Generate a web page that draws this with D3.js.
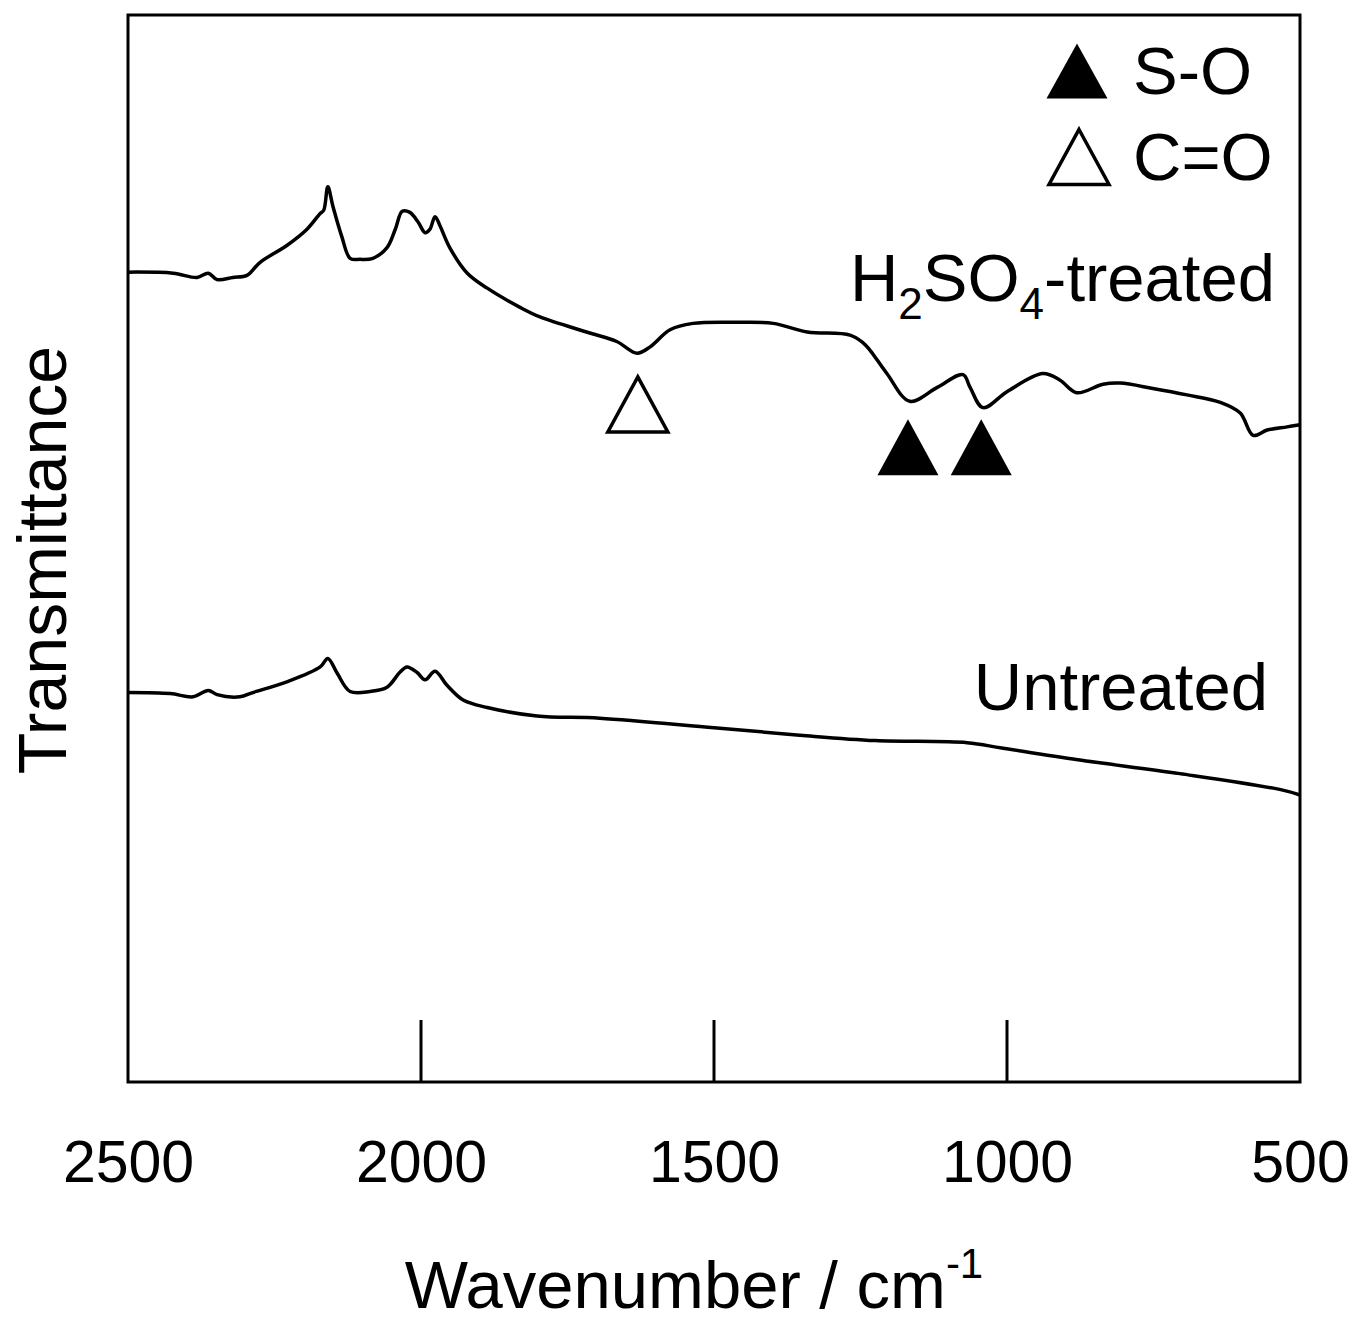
<!DOCTYPE html>
<html>
<head>
<meta charset="utf-8">
<script src="https://cdn.jsdelivr.net/npm/d3@7"></script>
<style>
    body { margin: 0; background: #fff; }
    svg text, svg tspan { font-family: "Liberation Sans", Arial, sans-serif; fill: #000; }
</style>
</head>
<body>
<div id="chart"></div>
<script>
// Spectra (wavenumber in cm-1, transmittance in arbitrary units)
const treatedWn = [2500, 2423, 2382, 2363, 2348, 2321, 2297, 2275, 2229, 2195, 2172, 2166, 2159, 2150, 2135, 2121,
    2104, 2082, 2058, 2044, 2032, 2019, 2005, 1993, 1985, 1976, 1968, 1951, 1921, 1887, 1831, 1797, 1712, 1666,
    1631, 1609, 1575, 1536, 1456, 1399, 1341, 1268, 1246, 1234, 1205, 1166, 1119, 1075, 1063, 1041, 1000, 939,
    910, 881, 836, 807, 751, 693, 636, 602, 580, 556, 522, 500];
const treatedT = [75.9, 75.8, 75.4, 75.8, 75.2, 75.4, 75.6, 76.8, 78.4, 79.9, 81.4, 81.7, 83.9, 82.0, 79.2, 77.2,
    77.1, 77.2, 78.2, 79.9, 81.6, 81.5, 80.6, 79.6, 79.9, 81.1, 80.3, 78.2, 75.8, 74.4, 72.6, 71.7, 70.2, 69.4,
    68.3, 68.9, 70.5, 71.1, 71.2, 71.1, 70.3, 70.0, 69.3, 68.6, 66.4, 63.8, 65.1, 66.3, 65.1, 63.2, 64.7, 66.4,
    65.8, 64.6, 65.4, 65.5, 65.0, 64.4, 63.7, 62.7, 60.6, 61.1, 61.4, 61.6];

const untreatedWn = [2500, 2428, 2389, 2363, 2348, 2309, 2287, 2229, 2172, 2159, 2143, 2121, 2087, 2058, 2036,
    2024, 2007, 1993, 1976, 1956, 1928, 1887, 1802, 1695, 1500, 1353, 1225, 1068, 1009, 879, 705, 533, 500];
const untreatedT = [36.5, 36.4, 36.1, 36.7, 36.3, 36.1, 36.5, 37.5, 38.9, 39.7, 38.3, 36.6, 36.6, 37.0, 38.4,
    38.9, 38.4, 37.7, 38.5, 37.2, 35.8, 35.1, 34.3, 34.1, 33.2, 32.5, 32.0, 31.8, 31.3, 30.2, 28.9, 27.4, 26.9];

// Peak assignments
const soPeaks = [1169, 1044];
const soLevel = 59.5;
const coPeaks = [1630];
const coLevel = 63.5;

const tickValues = [2500, 2000, 1500, 1000, 500];
const innerTicks = [2000, 1500, 1000];

const width = 1355, height = 1325;
const margin = { top: 15, right: 55, bottom: 243, left: 128 };
const innerW = width - margin.left - margin.right;
const innerH = height - margin.top - margin.bottom;

const svg = d3.select("#chart").append("svg")
    .attr("width", width)
    .attr("height", height);

const g = svg.append("g")
    .attr("transform", "translate(" + margin.left + "," + margin.top + ")");

const x = d3.scaleLinear().domain([2500, 500]).range([0, innerW]);
const y = d3.scaleLinear().domain([0, 100]).range([innerH, 0]);

// inner ticks rising from the bottom axis
g.selectAll(".inner-tick")
    .data(innerTicks)
    .enter().append("line")
    .attr("x1", d => x(d)).attr("x2", d => x(d))
    .attr("y1", innerH).attr("y2", innerH - 62)
    .attr("stroke", "#000")
    .attr("stroke-width", 3);

// bottom axis labels
const xAxis = d3.axisBottom(x)
    .tickValues(tickValues)
    .tickFormat(d3.format("d"))
    .tickSize(0)
    .tickPadding(58);
const axG = g.append("g")
    .attr("transform", "translate(0," + innerH + ")")
    .call(xAxis);
axG.select(".domain").remove();
axG.selectAll("text")
    .style("font-family", "'Liberation Sans', Arial, sans-serif")
    .style("font-size", "59px")
    .attr("fill", "#000");

const line = d3.line()
    .x(d => x(d[0]))
    .y(d => y(d[1]))
    .curve(d3.curveCatmullRom.alpha(0.5));

g.append("path")
    .datum(d3.zip(treatedWn, treatedT))
    .attr("fill", "none")
    .attr("stroke", "#000")
    .attr("stroke-width", 3.5)
    .attr("stroke-linejoin", "round")
    .attr("d", line);

g.append("path")
    .datum(d3.zip(untreatedWn, untreatedT))
    .attr("fill", "none")
    .attr("stroke", "#000")
    .attr("stroke-width", 3.5)
    .attr("stroke-linejoin", "round")
    .attr("d", line);

// frame
g.append("rect")
    .attr("width", innerW)
    .attr("height", innerH)
    .attr("fill", "none")
    .attr("stroke", "#000")
    .attr("stroke-width", 3);

function triangle(w, h) {
    return "M0," + (-h / 2) + "L" + (w / 2) + "," + (h / 2) + "L" + (-w / 2) + "," + (h / 2) + "Z";
}

g.selectAll(".so")
    .data(soPeaks)
    .enter().append("path")
    .attr("transform", d => "translate(" + x(d) + "," + y(soLevel) + ")")
    .attr("d", triangle(61, 56))
    .attr("fill", "#000");

g.selectAll(".co")
    .data(coPeaks)
    .enter().append("path")
    .attr("transform", d => "translate(" + x(d) + "," + y(coLevel) + ")")
    .attr("d", triangle(60, 55))
    .attr("fill", "#fff")
    .attr("stroke", "#000")
    .attr("stroke-width", 3.5);

// legend
svg.append("path")
    .attr("transform", "translate(1077,71)")
    .attr("d", triangle(61, 55))
    .attr("fill", "#000");
svg.append("text").attr("x", 1133).attr("y", 94)
    .style("font-size", "67px").text("S-O");

svg.append("path")
    .attr("transform", "translate(1079,157)")
    .attr("d", triangle(60, 55))
    .attr("fill", "#fff")
    .attr("stroke", "#000")
    .attr("stroke-width", 3.5);
svg.append("text").attr("x", 1133).attr("y", 180)
    .style("font-size", "67px").text("C=O");

// series labels
const lab = svg.append("text")
    .attr("x", 1275).attr("y", 301)
    .attr("text-anchor", "end")
    .style("font-size", "67px");
lab.append("tspan").text("H");
lab.append("tspan").attr("dy", 18).attr("fill", "#000").style("font-size", "44px").text("2");
lab.append("tspan").attr("dy", -18).text("SO");
lab.append("tspan").attr("dy", 18).attr("fill", "#000").style("font-size", "44px").text("4");
lab.append("tspan").attr("dy", -18).text("-treated");

svg.append("text")
    .attr("x", 1268).attr("y", 710)
    .attr("text-anchor", "end")
    .style("font-size", "67px")
    .text("Untreated");

// axis titles
svg.append("text")
    .attr("transform", "translate(66,560) rotate(-90)")
    .attr("text-anchor", "middle")
    .style("font-size", "68px")
    .text("Transmittance");

const xt = svg.append("text")
    .attr("x", 694).attr("y", 1308)
    .attr("text-anchor", "middle")
    .style("font-size", "67px");
xt.append("tspan").text("Wavenumber / cm");
xt.append("tspan").attr("dy", -30).style("font-size", "42px").text("-1");
</script>
</body>
</html>
